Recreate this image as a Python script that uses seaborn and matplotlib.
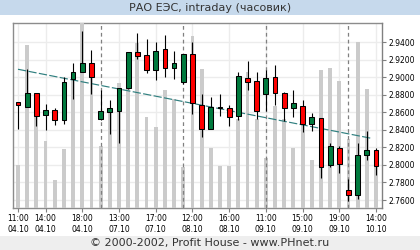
import numpy as np
import matplotlib
matplotlib.use("Agg")
import matplotlib.pyplot as plt
from matplotlib.patches import Rectangle
import seaborn as sns

# ---------------- data ----------------
days = ["04.10", "07.10", "08.10", "09.10", "10.10"]
day_hours = [list(range(11, 20)), list(range(11, 20)), list(range(11, 20)),
             list(range(11, 20)), list(range(11, 15))]

opens = [2.8715, 2.8658, 2.8818, 2.8567, 2.8624, 2.8510, 2.8985, 2.9064, 2.9160, 2.8521,
         2.8601, 2.8612, 2.8882, 2.9286, 2.9252, 2.9080, 2.9320, 2.9103, 2.8943, 2.9263,
         2.8681, 2.8407, 2.8658, 2.8647, 2.8555, 2.8989, 2.8955, 2.8806, 2.9000, 2.8818,
         2.8647, 2.8669, 2.8464, 2.8533, 2.7996, 2.8190, 2.7710, 2.7653, 2.8110, 2.8167]
closes = [2.8681, 2.8818, 2.8562, 2.8624, 2.8510, 2.8943, 2.9058, 2.9160, 2.9007, 2.8616,
          2.8647, 2.8882, 2.9286, 2.9244, 2.9080, 2.9297, 2.9103, 2.9160, 2.9263, 2.8704,
          2.8407, 2.8658, 2.8650, 2.8544, 2.9012, 2.8943, 2.8612, 2.8989, 2.8818, 2.8647,
          2.8704, 2.8464, 2.8544, 2.7973, 2.8213, 2.8007, 2.7653, 2.8110, 2.8167, 2.7984]
highs = [2.8715, 2.9092, 2.8818, 2.8692, 2.8647, 2.9000, 2.9167, 2.9529, 2.9312, 2.8861,
         2.8741, 2.8882, 2.9286, 2.9503, 2.9434, 2.9400, 2.9480, 2.9297, 2.9263, 2.9400,
         2.8810, 2.8772, 2.8810, 2.8681, 2.9058, 2.9183, 2.9058, 2.9080, 2.9137, 2.8830,
         2.8852, 2.8738, 2.8590, 2.8533, 2.8247, 2.8213, 2.7836, 2.8247, 2.8384, 2.8190]
lows = [2.8407, 2.8658, 2.8444, 2.8402, 2.8459, 2.8471, 2.8753, 2.9064, 2.8813, 2.8510,
        2.8353, 2.8254, 2.8867, 2.9206, 2.9046, 2.8966, 2.9000, 2.8985, 2.8921, 2.8578,
        2.8322, 2.8407, 2.8562, 2.8448, 2.8510, 2.8852, 2.8521, 2.8612, 2.8681, 2.8498,
        2.8544, 2.8373, 2.8384, 2.7847, 2.7973, 2.7905, 2.7585, 2.7608, 2.8053, 2.7882]
volumes = [43, 163, 103, 67, 28, 59, 132, 190, 138, 62,
           98, 125, 133, 165, 91, 81, 118, 109, 41, 172,
           139, 60, 42, 42, 89, 136, 89, 50, 102, 89,
           60, 93, 48, 138, 140, 127, 69, 166, 119, 50]
trend_idx = [0, 38.5]
trend_val = [2.9092, 2.8304]
price_ticks = [2.76, 2.78, 2.80, 2.82, 2.84, 2.86, 2.88, 2.90, 2.92, 2.94]
label_every = [0, 3, 7, 11, 15, 19, 23, 27, 31, 35, 39]

title = "РАО ЕЭС, intraday (часовик)"
footer = "© 2000-2002, Profit House - www.PHnet.ru"

# ------------- derived -------------
hour_lbl, date_lbl, day_start = [], [], []
for d, hrs in zip(days, day_hours):
    day_start.append(len(hour_lbl))
    for h in hrs:
        hour_lbl.append(f"{h}:00")
        date_lbl.append(d)
idx = np.arange(len(opens))
o = np.array(opens); c = np.array(closes)

sns.set_theme(style="white")
plt.rcParams['font.family'] = ['DejaVu Sans']

fig = plt.figure(figsize=(4.2, 2.5), dpi=100)
fig.patch.set_facecolor("white")
fig.patches.append(Rectangle((0, 1 - 15 / 250), 1, 15 / 250, transform=fig.transFigure,
                             facecolor="#c6d9ec", edgecolor="none", zorder=0))
fig.patches.append(Rectangle((0, 0), 1, 14 / 250, transform=fig.transFigure,
                             facecolor="#eeeeee", edgecolor="none", zorder=0))
fig.text(0.5, 1 - 7.8 / 250, title, ha="center", va="center", fontsize=8, color="#333333")
fig.text(0.5, 6.8 / 250, footer, ha="center", va="center", fontsize=8, color="#333333")

pos = [13 / 420, 42 / 250, (382 - 13) / 420, (208 - 23) / 250]
ax_bg = fig.add_axes(pos)
ax_v = ax_bg.twinx()
ax_p = ax_bg.twinx()

ylim = (2.7509, 2.962)
xlim = (-0.545, 39.65)

# background grid
ax_bg.set_facecolor("white")
ax_bg.set_ylim(ylim)
ax_bg.set_yticks(price_ticks)
ax_bg.grid(True, color="#ececec", lw=1.0)
ax_bg.tick_params(axis="y", left=False, labelleft=False)

# volumes
sns.barplot(x=idx, y=volumes, ax=ax_v, color="#cbcbcb", width=0.42, native_scale=True,
            saturation=1, linewidth=0, errorbar=None)
ax_v.set_ylim(0, 185)
ax_v.set_xlabel(""); ax_v.set_ylabel("")
ax_v.tick_params(left=False, right=False, labelleft=False, labelright=False)
for s in ax_v.spines.values():
    s.set_visible(False)
for ds in day_start[1:]:
    ax_v.axvline(ds, color="#808080", lw=0.9, ls=(0, (3, 2.5)), zorder=3)

# price candles
ax_p.plot(trend_idx, trend_val, color="#2f7f7f", lw=0.85, dashes=(7, 2), zorder=1)
ax_p.vlines(idx, lows, highs, color="black", lw=0.8, zorder=2)
cols = np.where(c >= o, "#007a3e", "#ff0000")
ax_p.bar(idx, c - o, bottom=o, width=0.52, color=cols, edgecolor="black", linewidth=0.75, zorder=3)
ax_p.set_ylim(ylim)
ax_p.set_yticks(price_ticks)
ax_p.set_yticklabels([f"{t:.4f}" for t in price_ticks])
ax_p.tick_params(axis="y", right=True, labelright=True, left=False, labelleft=False,
                 length=3, width=0.8, color="#808080", pad=2, labelsize=5.5, labelcolor="black")
for k, s in ax_p.spines.items():
    s.set_visible(k == "right")
ax_p.spines["right"].set_color("#808080")
ax_p.spines["right"].set_linewidth(1.0)
ax_p.grid(False)

# x axis
ax_bg.set_xlim(xlim)
ax_bg.set_xticks(label_every)
ax_bg.set_xticklabels([f"{hour_lbl[i]}\n{date_lbl[i]}" for i in label_every])
ax_bg.tick_params(axis="x", bottom=True, length=3, width=0.8, color="#808080", pad=1.5,
                  labelsize=5.5, labelcolor="black")
for l in ax_bg.get_xticklabels():
    l.set_linespacing(1.3)
for k, s in ax_bg.spines.items():
    s.set_visible(k != "right")
    s.set_color("#8c8c8c")
    s.set_linewidth(1.0)

fig.savefig("out.png", dpi=100, facecolor="white")
